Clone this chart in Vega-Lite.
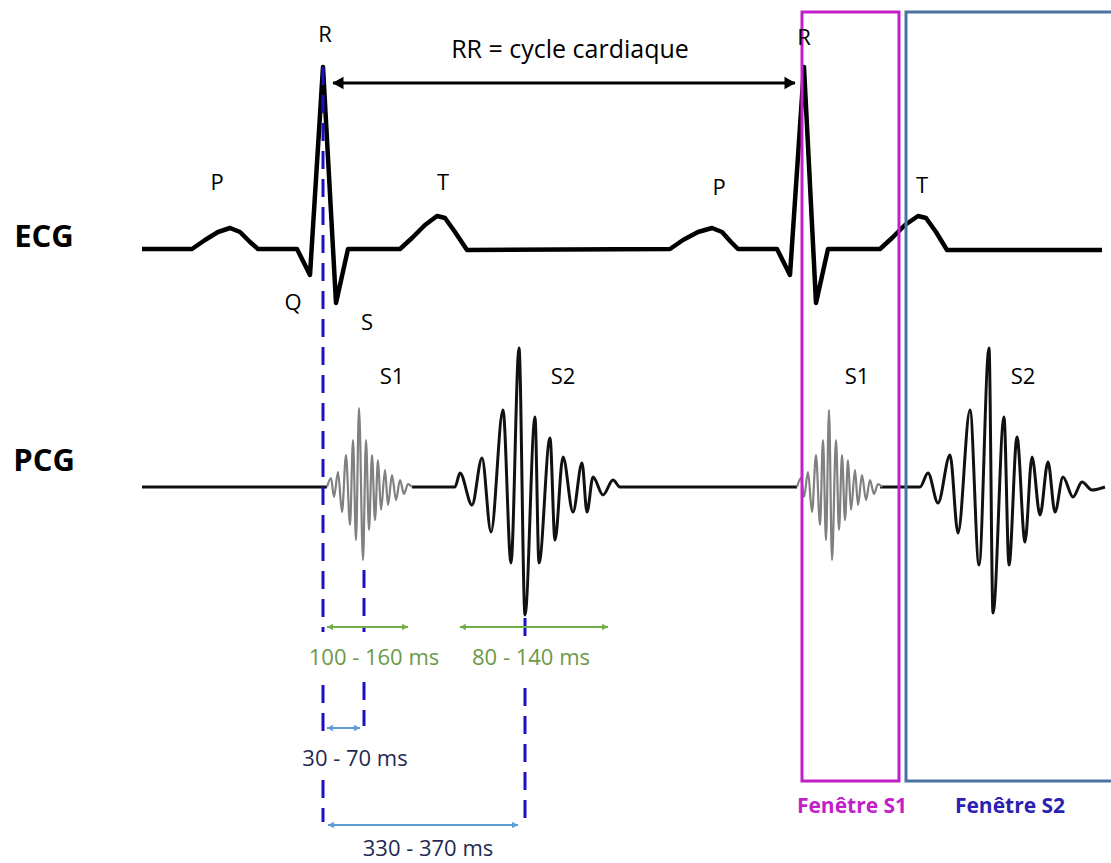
{
  "$schema": "https://vega.github.io/schema/vega-lite/v6.json",
  "width": 1111,
  "height": 863,
  "autosize": {"type": "fit", "contains": "padding"},
  "padding": 0,
  "background": "white",
  "config": {"view": {"stroke": null}, "font": "Open Sans"},
  "encoding": {
    "x": {"field": "x", "type": "quantitative", "scale": {"domain": [0, 1111], "nice": false, "zero": false}, "axis": null},
    "y": {"field": "y", "type": "quantitative", "scale": {"domain": [0, 863], "nice": false, "zero": false, "reverse": true}, "axis": null}
  },
  "layer": [
    {
      "data": {"values": [
        {"x":142,"y":249},{"x":192,"y":249},{"x":205,"y":240},{"x":218,"y":232},{"x":230,"y":228},{"x":240,"y":232},{"x":250,"y":242},{"x":258,"y":249},
        {"x":297,"y":249},{"x":310,"y":275},{"x":323,"y":67},{"x":336,"y":303},{"x":348,"y":249},
        {"x":400,"y":249},{"x":412,"y":238},{"x":425,"y":225},{"x":437,"y":216},{"x":445,"y":218},{"x":455,"y":232},{"x":467,"y":250},
        {"x":670,"y":249},{"x":683,"y":240},{"x":698,"y":232},{"x":712,"y":228},{"x":722,"y":232},{"x":731,"y":242},{"x":738,"y":249},
        {"x":777,"y":249},{"x":790,"y":275},{"x":804,"y":67},{"x":816,"y":303},{"x":828,"y":249},
        {"x":880,"y":249},{"x":892,"y":238},{"x":905,"y":225},{"x":918,"y":216},{"x":926,"y":218},{"x":936,"y":232},{"x":947,"y":250},{"x":1102,"y":250}
      ]},
      "mark": {"type": "line", "color": "black", "strokeWidth": 4.5, "strokeJoin": "round"}
    },
    {
      "data": {"values": [
        {"seg":"a","x":142,"y":487},{"seg":"a","x":327,"y":487},
        {"seg":"b","x":412,"y":487},{"seg":"b","x":455,"y":487},{"seg":"b","x":460,"y":473},{"seg":"b","x":472,"y":505},{"seg":"b","x":482,"y":458},{"seg":"b","x":491,"y":532},{"seg":"b","x":503,"y":410},{"seg":"b","x":511,"y":563},{"seg":"b","x":519,"y":348},{"seg":"b","x":525,"y":615},{"seg":"b","x":535,"y":417},{"seg":"b","x":539,"y":563},{"seg":"b","x":550,"y":438},{"seg":"b","x":555,"y":540},{"seg":"b","x":563,"y":457},{"seg":"b","x":573,"y":512},{"seg":"b","x":582,"y":463},{"seg":"b","x":587,"y":512},{"seg":"b","x":593,"y":477},{"seg":"b","x":603,"y":495},{"seg":"b","x":613,"y":480},{"seg":"b","x":620,"y":487},{"seg":"b","x":797,"y":487},
        {"seg":"c","x":880,"y":487},{"seg":"c","x":920,"y":487},{"seg":"c","x":928,"y":473},{"seg":"c","x":938,"y":503},{"seg":"c","x":950,"y":455},{"seg":"c","x":958,"y":533},{"seg":"c","x":970,"y":410},{"seg":"c","x":979,"y":565},{"seg":"c","x":989,"y":348},{"seg":"c","x":993,"y":613},{"seg":"c","x":1004,"y":417},{"seg":"c","x":1009,"y":565},{"seg":"c","x":1017,"y":437},{"seg":"c","x":1025,"y":542},{"seg":"c","x":1032,"y":457},{"seg":"c","x":1040,"y":515},{"seg":"c","x":1048,"y":462},{"seg":"c","x":1055,"y":512},{"seg":"c","x":1063,"y":477},{"seg":"c","x":1073,"y":497},{"seg":"c","x":1082,"y":482},{"seg":"c","x":1092,"y":490},{"seg":"c","x":1105,"y":487}
      ]},
      "mark": {"type": "line", "color": "#111111", "strokeWidth": 3, "strokeJoin": "round", "interpolate": "monotone"},
      "encoding": {"detail": {"field": "seg"}}
    },
    {
      "data": {"values": [
        {"seg":"a","x":327,"y":487},{"seg":"a","x":331,"y":478},{"seg":"a","x":334,"y":497},{"seg":"a","x":338,"y":472},{"seg":"a","x":342,"y":512},{"seg":"a","x":346,"y":455},{"seg":"a","x":350,"y":525},{"seg":"a","x":353,"y":440},{"seg":"a","x":356,"y":540},{"seg":"a","x":359,"y":408},{"seg":"a","x":363,"y":560},{"seg":"a","x":366,"y":440},{"seg":"a","x":369,"y":530},{"seg":"a","x":372,"y":455},{"seg":"a","x":375,"y":520},{"seg":"a","x":378,"y":460},{"seg":"a","x":381,"y":510},{"seg":"a","x":385,"y":470},{"seg":"a","x":388,"y":505},{"seg":"a","x":392,"y":475},{"seg":"a","x":396,"y":500},{"seg":"a","x":400,"y":480},{"seg":"a","x":404,"y":494},{"seg":"a","x":408,"y":484},{"seg":"a","x":412,"y":487},
        {"seg":"b","x":797,"y":487},{"seg":"b","x":801,"y":478},{"seg":"b","x":804,"y":497},{"seg":"b","x":808,"y":472},{"seg":"b","x":812,"y":512},{"seg":"b","x":816,"y":455},{"seg":"b","x":820,"y":525},{"seg":"b","x":823,"y":440},{"seg":"b","x":826,"y":540},{"seg":"b","x":829,"y":410},{"seg":"b","x":832,"y":560},{"seg":"b","x":836,"y":440},{"seg":"b","x":839,"y":530},{"seg":"b","x":842,"y":455},{"seg":"b","x":845,"y":520},{"seg":"b","x":848,"y":460},{"seg":"b","x":851,"y":510},{"seg":"b","x":855,"y":470},{"seg":"b","x":858,"y":505},{"seg":"b","x":862,"y":475},{"seg":"b","x":866,"y":500},{"seg":"b","x":870,"y":480},{"seg":"b","x":874,"y":494},{"seg":"b","x":878,"y":484},{"seg":"b","x":882,"y":487}
      ]},
      "mark": {"type": "line", "color": "#808080", "strokeWidth": 2.2, "strokeJoin": "round", "interpolate": "monotone"},
      "encoding": {"detail": {"field": "seg"}}
    },
    {
      "data": {"values": [
        {"x":323,"y":67,"y2":632},{"x":323,"y":685,"y2":732},{"x":323,"y":780,"y2":822},
        {"x":364,"y":570,"y2":632},{"x":364,"y":682,"y2":726},
        {"x":525,"y":618,"y2":636},{"x":525,"y":688,"y2":826}
      ]},
      "mark": {"type": "rule", "color": "#1d10c2", "strokeWidth": 3, "strokeDash": [18, 10]},
      "encoding": {"y2": {"field": "y2"}}
    },
    {
      "data": {"values": [{"x":333,"x2":795,"y":83}]},
      "mark": {"type": "rule", "color": "black", "strokeWidth": 3},
      "encoding": {"x2": {"field": "x2"}}
    },
    {
      "data": {"values": [{"x":338,"y":83,"dir":"left"},{"x":790,"y":83,"dir":"right"}]},
      "mark": {"type": "point", "filled": true, "color": "black", "size": 160, "opacity": 1},
      "encoding": {"shape": {"field": "dir", "scale": {"domain": ["left","right"], "range": ["triangle-left","triangle-right"]}, "legend": null}}
    },
    {
      "data": {"values": [{"x":327,"x2":408,"y":627},{"x":460,"x2":608,"y":627}]},
      "mark": {"type": "rule", "color": "#70ad47", "strokeWidth": 2},
      "encoding": {"x2": {"field": "x2"}}
    },
    {
      "data": {"values": [{"x":330,"y":627,"dir":"left"},{"x":405,"y":627,"dir":"right"},{"x":463,"y":627,"dir":"left"},{"x":605,"y":627,"dir":"right"}]},
      "mark": {"type": "point", "filled": true, "color": "#70ad47", "size": 45, "opacity": 1},
      "encoding": {"shape": {"field": "dir", "scale": {"domain": ["left","right"], "range": ["triangle-left","triangle-right"]}, "legend": null}}
    },
    {
      "data": {"values": [{"x":327,"x2":360,"y":728},{"x":328,"x2":518,"y":825}]},
      "mark": {"type": "rule", "color": "#5b9bd5", "strokeWidth": 2},
      "encoding": {"x2": {"field": "x2"}}
    },
    {
      "data": {"values": [{"x":330,"y":728,"dir":"left"},{"x":357,"y":728,"dir":"right"},{"x":331,"y":825,"dir":"left"},{"x":515,"y":825,"dir":"right"}]},
      "mark": {"type": "point", "filled": true, "color": "#5b9bd5", "size": 45, "opacity": 1},
      "encoding": {"shape": {"field": "dir", "scale": {"domain": ["left","right"], "range": ["triangle-left","triangle-right"]}, "legend": null}}
    },
    {
      "data": {"values": [{"x":802,"x2":899,"y":12,"y2":781}]},
      "mark": {"type": "rect", "fill": null, "fillOpacity": 0, "stroke": "#c21fc9", "strokeWidth": 3},
      "encoding": {"x2": {"field": "x2"}, "y2": {"field": "y2"}}
    },
    {
      "data": {"values": [{"x":906,"x2":1125,"y":12,"y2":781}]},
      "mark": {"type": "rect", "fill": null, "fillOpacity": 0, "stroke": "#4a72a0", "strokeWidth": 3, "clip": true},
      "encoding": {"x2": {"field": "x2"}, "y2": {"field": "y2"}}
    },
    {
      "data": {"values": [
        {"x":325,"y":35,"label":"R"},{"x":804,"y":38,"label":"R"},
        {"x":217,"y":183,"label":"P"},{"x":443,"y":183,"label":"T"},
        {"x":719,"y":188,"label":"P"},{"x":922,"y":186,"label":"T"},
        {"x":293,"y":303,"label":"Q"},{"x":367,"y":323,"label":"S"},
        {"x":392,"y":377,"label":"S1"},{"x":563,"y":377,"label":"S2"},
        {"x":857,"y":377,"label":"S1"},{"x":1023,"y":377,"label":"S2"}
      ]},
      "mark": {"type": "text", "fontSize": 22, "color": "black", "align": "center", "baseline": "middle"},
      "encoding": {"text": {"field": "label"}}
    },
    {
      "data": {"values": [{"x":570,"y":50,"label":"RR = cycle cardiaque"}]},
      "mark": {"type": "text", "fontSize": 25, "color": "black", "align": "center", "baseline": "middle"},
      "encoding": {"text": {"field": "label"}}
    },
    {
      "data": {"values": [{"x":44,"y":238,"label":"ECG"},{"x":44,"y":462,"label":"PCG"}]},
      "mark": {"type": "text", "fontSize": 31, "fontWeight": "bold", "color": "black", "align": "center", "baseline": "middle"},
      "encoding": {"text": {"field": "label"}}
    },
    {
      "data": {"values": [{"x":374,"y":658,"label":"100 - 160 ms"},{"x":531,"y":658,"label":"80 - 140 ms"}]},
      "mark": {"type": "text", "fontSize": 22, "color": "#6a9a48", "align": "center", "baseline": "middle"},
      "encoding": {"text": {"field": "label"}}
    },
    {
      "data": {"values": [{"x":355,"y":759,"label":"30 - 70 ms"},{"x":428,"y":849,"label":"330 - 370 ms"}]},
      "mark": {"type": "text", "fontSize": 22, "color": "#1f2a55", "align": "center", "baseline": "middle"},
      "encoding": {"text": {"field": "label"}}
    },
    {
      "data": {"values": [{"x":852,"y":807,"label":"Fenêtre S1"}]},
      "mark": {"type": "text", "fontSize": 21, "fontWeight": "bold", "color": "#c21fc9", "align": "center", "baseline": "middle"},
      "encoding": {"text": {"field": "label"}}
    },
    {
      "data": {"values": [{"x":1010,"y":807,"label":"Fenêtre S2"}]},
      "mark": {"type": "text", "fontSize": 21, "fontWeight": "bold", "color": "#2a1fb0", "align": "center", "baseline": "middle"},
      "encoding": {"text": {"field": "label"}}
    }
  ]
}
